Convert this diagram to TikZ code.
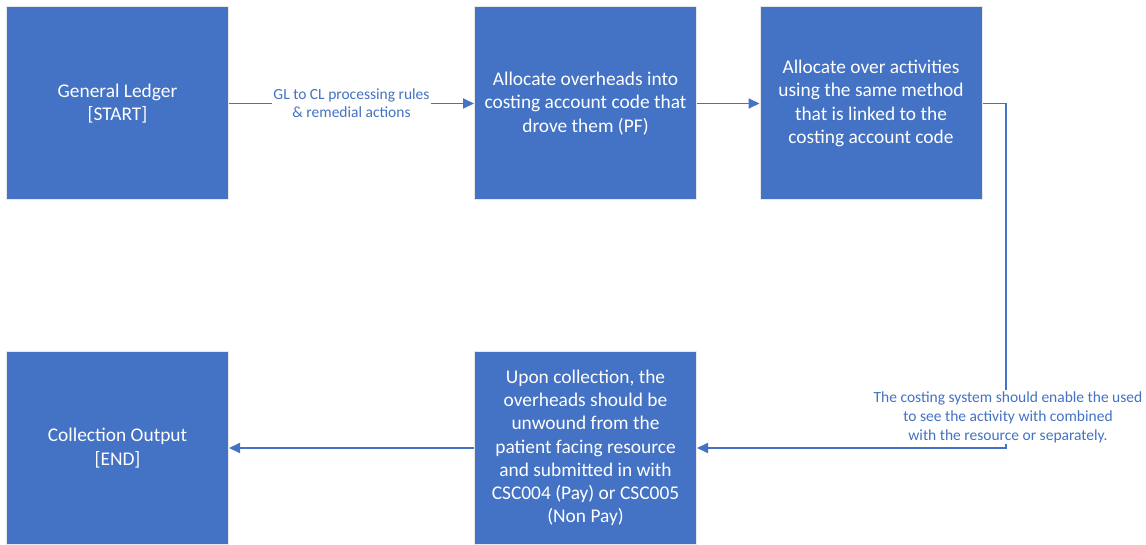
\documentclass[tikz,border=0pt]{standalone}
\usepackage{fontspec}
\setmainfont{Carlito}
\usetikzlibrary{arrows.meta}
\definecolor{officeblue}{HTML}{4472C4}
\begin{document}
\begin{tikzpicture}[x=1pt,y=-1pt,
  procbox/.style={draw=white!82!gray, line width=1pt, fill=officeblue,
    minimum width=222pt, minimum height=193pt, inner sep=0pt,
    text=white, align=center, font=\fontsize{19.4}{23.2}\selectfont},
  flow/.style={draw=officeblue, line width=1.8pt},
  flowarrow/.style={flow, -{Triangle[length=11pt,width=10pt]}},
  flowlabel/.style={fill=white, text=officeblue, align=center, inner sep=1pt}]
\useasboundingbox (0,0) rectangle (1146,545);
\node[procbox] (gl)   at (117.5,103.5) {General Ledger\\{[START]}};
\node[procbox] (pf)   at (585.5,103.5) {Allocate overheads into\\costing account code that\\drove them (PF)};
\node[procbox] (act)  at (871,103.5) {Allocate over activities\\using the same method\\that is linked to the\\costing account code};
\node[procbox] (coll) at (585.5,448) {Upon collection, the\\overheads should be\\unwound from the\\patient facing resource\\and submitted in with\\CSC004 (Pay) or CSC005\\(Non Pay)};
\node[procbox] (out)  at (117.5,448) {Collection Output\\{[END]}};
\coordinate (turn1) at (1006,103.5);
\coordinate (turn2) at (1006,448);
\draw[flowarrow] (gl) -- node[flowlabel, font=\fontsize{15.5}{18}\selectfont] (glcl) {GL to CL processing rules\\\& remedial actions} (pf);
\draw[flowarrow] (pf) -- (act);
\draw[flowarrow] (act.east) -- (turn1) -- (turn2) -- (coll.east);
\node[flowlabel, font=\fontsize{15.5}{19}\selectfont] (note) at (1008,417) {The costing system should enable the used\\to see the activity with combined\\with the resource or separately.};
\draw[flowarrow] (coll) -- (out);
\end{tikzpicture}
\end{document}
